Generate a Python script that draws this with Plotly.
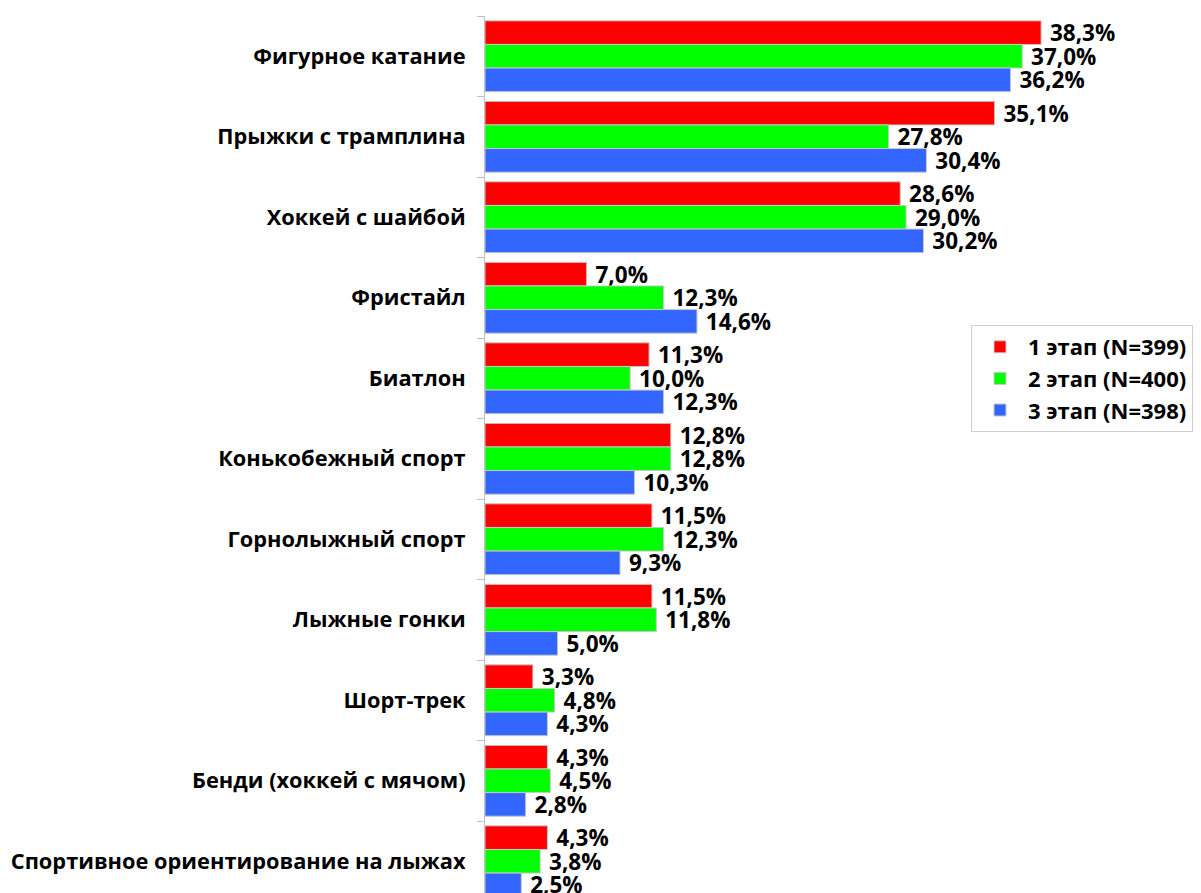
import plotly.graph_objects as go

categories = ["Фигурное катание", "Прыжки с трамплина", "Хоккей с шайбой", "Фристайл",
              "Биатлон", "Конькобежный спорт", "Горнолыжный спорт", "Лыжные гонки",
              "Шорт-трек", "Бенди (хоккей с мячом)", "Спортивное ориентирование на лыжах"]
stage1 = [38.3, 35.1, 28.6, 7.0, 11.3, 12.8, 11.5, 11.5, 3.3, 4.3, 4.3]
stage2 = [37.0, 27.8, 29.0, 12.3, 10.0, 12.8, 12.3, 11.8, 4.8, 4.5, 3.8]
stage3 = [36.2, 30.4, 30.2, 14.6, 12.3, 10.3, 9.3, 5.0, 4.3, 2.8, 2.5]
series_names = ["1 этап (N=399)", "2 этап (N=400)", "3 этап (N=398)"]
colors = ["#ff0000", "#00ff00", "#3366ff"]

FONT = "Open Sans"
fig = go.Figure()
for name, vals, col in zip(series_names, [stage1, stage2, stage3], colors):
    fig.add_trace(go.Bar(
        y=categories, x=vals, name="<b>" + name + "</b>", orientation="h",
        marker=dict(color=col, line=dict(color="#c8c8c8", width=1)),
        text=[" " + f"{v:.1f}".replace(".", ",") + "%" for v in vals],
        textposition="outside", cliponaxis=False, constraintext="none",
        textfont=dict(family=FONT, size=22.5, color="black", weight="bold"),
    ))

fig.update_layout(
    width=1193, height=885,
    margin=dict(l=477, r=0, t=8, b=0),
    barmode="group", bargap=0.12, bargroupgap=0,
    plot_bgcolor="white", paper_bgcolor="white",
    font=dict(family=FONT, size=21.8, color="black"),
    showlegend=True,
    legend=dict(x=(1185 - 477) / 716, xanchor="right", y=1 - (317 - 8) / 877, yanchor="top",
                xref="paper", yref="paper",
                bordercolor="#d0d0d0", borderwidth=1, bgcolor="white",
                font=dict(family=FONT, size=22, color="black"),
                traceorder="normal", itemwidth=46, tracegroupgap=0),
)
fig.update_xaxes(range=[0, 716 / 14.52], showticklabels=False, showgrid=False,
                 zeroline=False, showline=False, ticks="")
fig.update_yaxes(autorange=False, range=[10.394, -0.5], showline=True, linecolor="#bfbfbf",
                 linewidth=1, ticks="outside", tickson="boundaries", ticklen=7,
                 tickcolor="#bfbfbf", showgrid=False, ticklabelstandoff=14,
                 tickfont=dict(family=FONT, size=21.8, color="black", weight="bold"))
fig.write_html("out.html")
